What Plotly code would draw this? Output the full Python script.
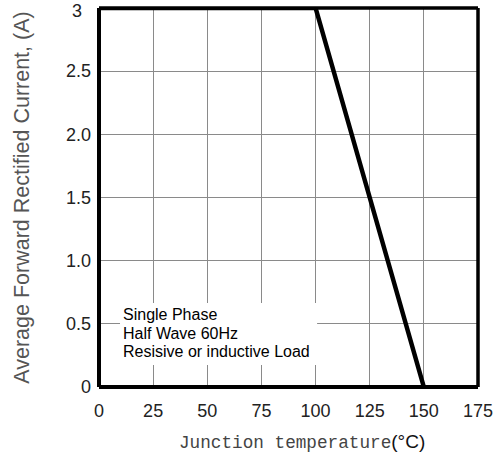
import plotly.graph_objects as go

temp = [0, 100, 150]
current = [3, 3, 0]
x_ticks = [0, 25, 50, 75, 100, 125, 150, 175]
y_ticks = [0, 0.5, 1.0, 1.5, 2.0, 2.5]
y_ticktext = ["0", "0.5", "1.0", "1.5", "2.0", "2.5"]
y_top_tick = [3]
y_top_text = ["3"]
note_lines = ["Single Phase", "Half Wave 60Hz", "Resisive or inductive Load"]
note_y = [0.570, 0.425, 0.279]

fig = go.Figure()
fig.add_trace(go.Scatter(x=temp, y=current, mode="lines",
                         line=dict(color="black", width=4.5), showlegend=False,
                         cliponaxis=False))
fig.add_trace(go.Scatter(x=[None], y=[None], yaxis="y2", mode="lines",
                         showlegend=False, hoverinfo="skip"))

axfont = dict(family="Liberation Sans, Arial", size=18, color="#222")
fig.update_xaxes(range=[0, 175], tickvals=x_ticks, showgrid=True, gridcolor="#8a8a8a",
                 gridwidth=1, zeroline=False, showline=False, tickfont=axfont,
                 ticks="", ticklabelstandoff=11, ticklabeloverflow="allow",
                 automargin=False)
fig.update_layout(
    yaxis=dict(range=[0, 3], tickvals=y_ticks, ticktext=y_ticktext, showgrid=True,
               gridcolor="#8a8a8a", gridwidth=1, zeroline=False, showline=False,
               tickfont=axfont, ticks="", ticklabelstandoff=7, ticklabeloverflow="allow",
               automargin=False,
               title=dict(text="Average Forward Rectified Current, (A)",
                          font=dict(family="Liberation Sans, Arial", size=21.5, color="#555"),
                          standoff=30)),
    yaxis2=dict(range=[0, 3], overlaying="y", side="left", tickvals=y_top_tick,
                ticktext=y_top_text, showgrid=False, zeroline=False, showline=False,
                tickfont=axfont, ticks="", ticklabelstandoff=16, ticklabelshift=3,
                ticklabeloverflow="allow", automargin=False),
)

# x-axis title
fig.add_annotation(
    x=0.5356, y=-0.145, xref="paper", yref="paper", xanchor="center", yanchor="middle",
    showarrow=False,
    text='<span style="font-family:Liberation Mono, Courier New;font-size:17.7px;color:#444">Junction temperature</span>(°C)',
    font=dict(family="Liberation Sans, Arial", size=19, color="#111"))

# white box behind note
fig.add_shape(type="rect", xref="x", yref="y", x0=9.7, x1=100.7, y0=0.174, y1=0.665,
              fillcolor="white", line=dict(width=0), layer="between")
# frame
fig.add_shape(type="line", xref="paper", yref="paper", x0=0, x1=0, y0=0, y1=1,
              line=dict(color="black", width=4))
fig.add_shape(type="line", xref="paper", yref="paper", x0=0, x1=1, y0=0, y1=0,
              line=dict(color="black", width=4))
fig.add_shape(type="line", xref="paper", yref="paper", x0=1, x1=1, y0=0, y1=1,
              line=dict(color="black", width=3.5))
fig.add_shape(type="line", xref="paper", yref="paper", x0=0, x1=1, y0=1, y1=1,
              line=dict(color="black", width=3.5))

for txt, yy in zip(note_lines, note_y):
    fig.add_annotation(x=10.2, y=yy, xref="x", yref="y", xanchor="left", yanchor="middle",
                       align="left", showarrow=False, text=txt,
                       font=dict(family="Liberation Sans, Arial", size=16, color="black"))

fig.update_layout(width=495, height=468, margin=dict(l=99, r=17, t=8, b=81),
                  plot_bgcolor="white", paper_bgcolor="white")
fig.write_html("out.html", config={"displayModeBar": False},
               post_script="document.body.style.margin='0px';")
